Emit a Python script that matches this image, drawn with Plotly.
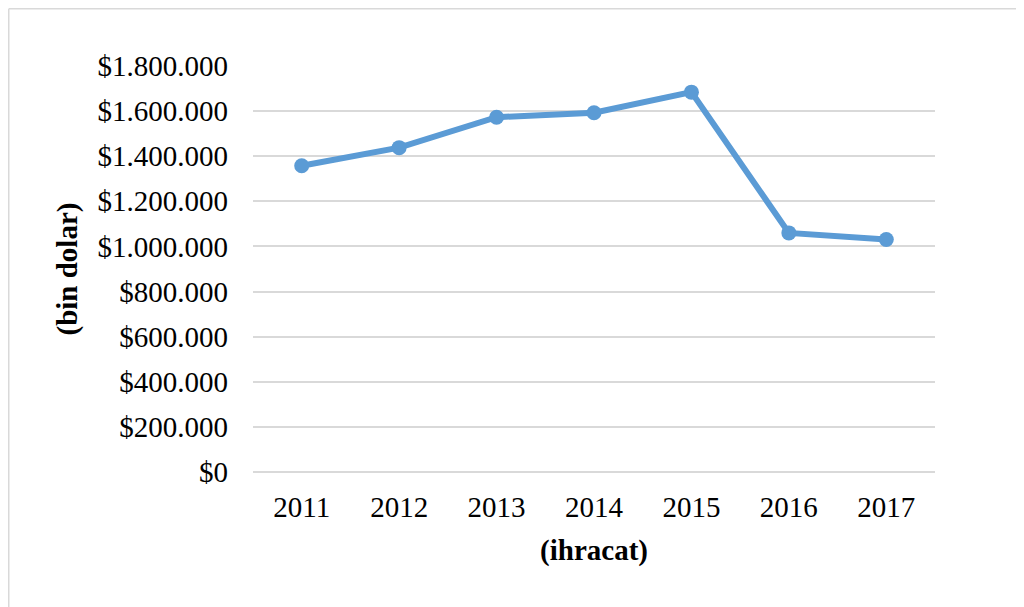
import plotly.graph_objects as go

years = ["2011", "2012", "2013", "2014", "2015", "2016", "2017"]
exports = [1358000, 1438000, 1573000, 1593000, 1684000, 1060000, 1031000]
y_ticks = [0, 200000, 400000, 600000, 800000, 1000000, 1200000, 1400000, 1600000, 1800000]
y_tick_labels = ["$0", "$200.000", "$400.000", "$600.000", "$800.000", "$1.000.000",
                 "$1.200.000", "$1.400.000", "$1.600.000", "$1.800.000"]

FONT = "Liberation Serif, Times New Roman, serif"
BLUE = "#5B9BD5"
GRID = "#D9D9D9"

W, H = 1016, 599
L, T, PW, PH = 245, 58, 682, 406

fig = go.Figure()
fig.add_trace(go.Scatter(
    x=years, y=exports, mode="lines+markers",
    line=dict(color=BLUE, width=6),
    marker=dict(color=BLUE, size=15),
    showlegend=False, hoverinfo="x+y",
))

fig.update_layout(
    width=W, height=H,
    margin=dict(l=L, r=W - L - PW, t=T, b=H - T - PH, autoexpand=False),
    paper_bgcolor="white", plot_bgcolor="white",
    font=dict(family=FONT, size=29, color="black"),
    xaxis=dict(
        type="category", range=[-0.5, 6.5],
        showgrid=False, showline=False, zeroline=False,
        ticks="", ticklabelstandoff=15,
        tickfont=dict(family=FONT, size=29, color="black"),
        title=dict(text="<b>(ihracat)</b>", font=dict(family=FONT, size=29, color="black"), standoff=17),
        automargin=False,
    ),
    yaxis=dict(
        range=[0, 1800000],
        tickvals=y_ticks, ticktext=y_tick_labels,
        showgrid=True, gridcolor=GRID, gridwidth=1.5,
        zeroline=True, zerolinecolor=GRID, zerolinewidth=1.5,
        showline=False, ticks="", ticklabelstandoff=24,
        tickfont=dict(family=FONT, size=29, color="black"),
        title=dict(text="<b>(bin dolar)</b>", font=dict(family=FONT, size=29, color="black"), standoff=11),
        automargin=False,
    ),
    shapes=[
        dict(type="line", xref="paper", yref="paper",
             x0=(0.75 - L) / PW, x1=(W - L) / PW,
             y0=(T + PH - 0.75) / PH, y1=(T + PH - 0.75) / PH,
             line=dict(color=GRID, width=1.5)),
        dict(type="line", xref="paper", yref="paper",
             x0=(0.75 - L) / PW, x1=(0.75 - L) / PW,
             y0=(T + PH - H) / PH, y1=(T + PH - 0.75) / PH,
             line=dict(color=GRID, width=1.5)),
    ],
)

fig.write_html("out.html")
